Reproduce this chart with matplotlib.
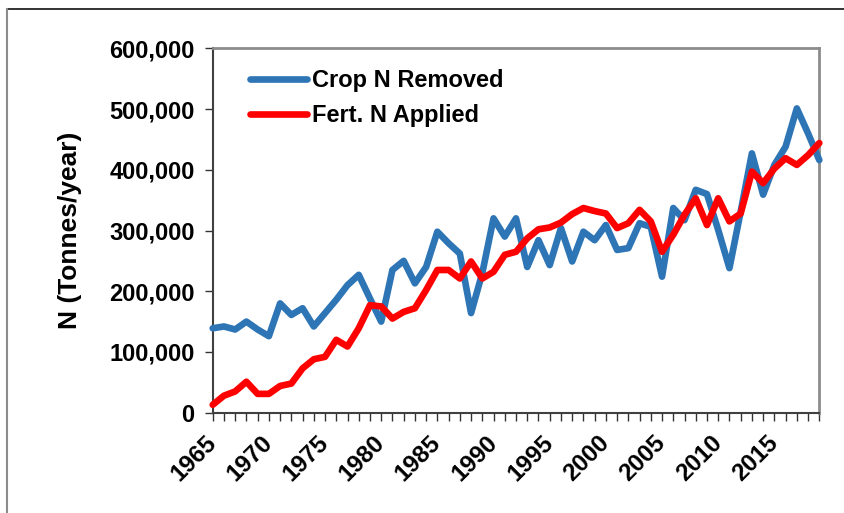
import matplotlib
matplotlib.use("Agg")
import matplotlib.pyplot as plt
from matplotlib.lines import Line2D
from matplotlib.ticker import FuncFormatter, MultipleLocator

plt.rcParams['font.family'] = ['Liberation Sans', 'DejaVu Sans']

years = list(range(1965, 2020))
crop_n_removed = [139, 142, 137, 150, 137, 126, 180, 161, 172, 142,
                  164, 186, 210, 227, 188, 150, 235, 250, 213, 240,
                  298, 279, 262, 164, 230, 320, 290, 320, 240, 284,
                  243, 304, 249, 298, 284, 309, 268, 271, 312, 306,
                  224, 337, 317, 367, 360, 301, 238, 331, 427, 359,
                  408, 438, 501, 460, 416]
fert_n_applied = [13, 28, 35, 51, 31, 31, 44, 48, 73, 88,
                  92, 120, 109, 139, 177, 175, 155, 166, 172, 202,
                  235, 235, 221, 249, 221, 232, 260, 265, 287, 302,
                  305, 313, 327, 337, 332, 328, 304, 312, 334, 315,
                  265, 293, 326, 353, 309, 353, 315, 328, 397, 378,
                  402, 419, 408, 424, 444]
crop_n_removed = [v * 1000 for v in crop_n_removed]
fert_n_applied = [v * 1000 for v in fert_n_applied]
series_labels = ["Crop N Removed", "Fert. N Applied"]
y_label = "N (Tonnes/year)"

W, H = 845, 513
fig = plt.figure(figsize=(W / 100, H / 100), dpi=100)
ax = fig.add_axes([212.7 / W, 1 - 412.7 / H, (819.3 - 212.7) / W, (412.7 - 48.3) / H])

lw = 4.8
ax.plot(years, crop_n_removed, color='#2E75B6', lw=lw, solid_joinstyle='round',
        solid_capstyle='round', label=series_labels[0], clip_on=False, zorder=3)
ax.plot(years, fert_n_applied, color='#FF0000', lw=lw, solid_joinstyle='round',
        solid_capstyle='round', label=series_labels[1], clip_on=False, zorder=4)

ax.set_xlim(years[0], years[-1])
ax.set_ylim(0, 600000)
ax.yaxis.set_major_locator(MultipleLocator(100000))
ax.yaxis.set_major_formatter(FuncFormatter(lambda v, p: f"{int(v):,}"))

ax.set_xticks(years)
ax.set_xticklabels([str(y) if (y - 1965) % 5 == 0 else '' for y in years],
                   rotation=45, ha='right', va='center', rotation_mode='anchor',
                   fontweight='bold', fontsize=17.5)
for lab in ax.get_yticklabels():
    lab.set_fontweight('bold')
    lab.set_fontsize(17)

ax.tick_params(axis='x', direction='out', length=6, width=1, color='#333333', pad=13)
ax.tick_params(axis='y', direction='out', length=6, width=1, color='#333333', pad=7)

for s in ['left', 'bottom']:
    ax.spines[s].set_color('#404040')
    ax.spines[s].set_linewidth(1.5)
for s in ['top', 'right']:
    ax.spines[s].set_color('#8C8C8C')
    ax.spines[s].set_linewidth(2)

ax.set_ylabel(y_label, fontsize=19, fontweight='bold')
ax.yaxis.set_label_coords(-0.215, 0.5)

leg = ax.legend(loc='upper left', bbox_to_anchor=(0.062, 0.942), frameon=False,
                prop={'weight': 'bold', 'size': 17}, handlelength=2.4,
                handletextpad=0.2, labelspacing=0.5, borderpad=0, borderaxespad=0)

# chart-area border (cropped screenshot look)
fig.add_artist(Line2D([7 / W, 1], [1 - 9 / H, 1 - 9 / H], color='#111111', lw=1.2,
                      transform=fig.transFigure))
fig.add_artist(Line2D([7 / W, 7 / W], [0, 1 - 9 / H], color='#8C8C8C', lw=1.5,
                      transform=fig.transFigure))

fig.savefig("out.png", dpi=100, facecolor='white')
